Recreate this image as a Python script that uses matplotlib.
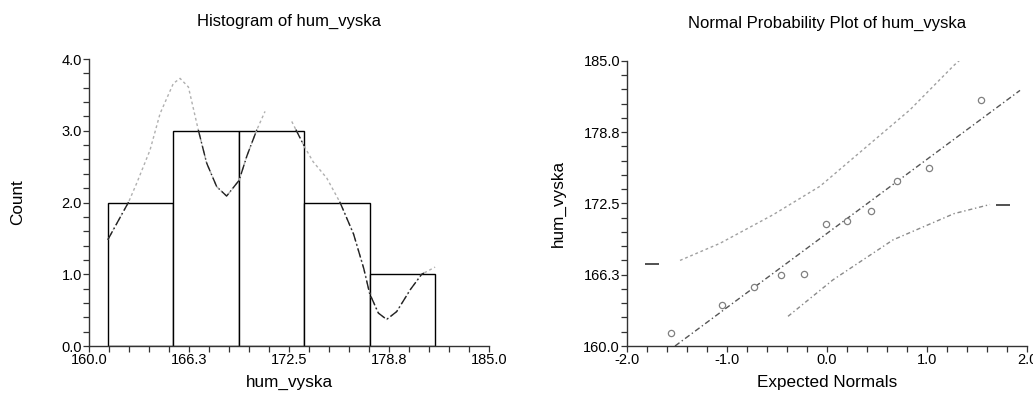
import numpy as np
import matplotlib
matplotlib.use("Agg")
import matplotlib.pyplot as plt
from matplotlib.ticker import MultipleLocator

plt.rcParams['font.family'] = ['Liberation Sans', 'DejaVu Sans']

# histogram of hum_vyska
bin_edges = [161.17, 165.27, 169.38, 173.46, 177.54, 181.63]
counts = [2, 3, 3, 2, 1]

# smooth curve drawn over the histogram (nan = gap)
curve_x = [161.17, 162.46, 162.98, 163.81, 164.44, 165.27, 165.69, 166.21, 166.83,
           167.35, 167.98, 168.60, 169.38, 169.85, 170.48, 171.00, np.nan,
           172.67, 173.46, 174.00, 174.86, 175.69, 176.52, 177.15, 177.54, 178.08,
           178.60, 179.23, 180.06, 180.79, 181.63]
curve_y = [1.48, 2.00, 2.27, 2.73, 3.24, 3.66, 3.73, 3.61, 3.01,
           2.55, 2.22, 2.09, 2.31, 2.64, 3.01, 3.27, np.nan,
           3.13, 2.78, 2.57, 2.34, 2.00, 1.57, 1.10, 0.73, 0.46,
           0.37, 0.48, 0.78, 1.00, 1.10]

# normal probability plot
expected = [-1.56, -1.05, -0.73, -0.46, -0.23, -0.01, 0.20, 0.44, 0.70, 1.02, 1.54]
heights = [161.1, 163.6, 165.2, 166.2, 166.3, 170.7, 170.95, 171.8, 174.5, 175.6, 181.6]
fit_x = [-1.52, 1.93]
fit_y = [160.0, 182.4]
upper_x = [-1.47, -1.07, -0.54, -0.07, 0.40, 0.83, 1.27, 1.45]
upper_y = [167.5, 169.0, 171.5, 174.0, 177.5, 180.7, 184.6, 186.0]
lower_x = [-0.39, 0.06, 0.66, 1.27, 1.63]
lower_y = [162.6, 165.8, 169.3, 171.6, 172.4]
ends_x = [-1.75, 1.76]
ends_y = [167.2, 172.4]

ticks_h = [160, 166.25, 172.5, 178.75, 185]
tick_lbl = ['160.0', '166.3', '172.5', '178.8', '185.0']

fig = plt.figure(figsize=(10.33, 3.94), dpi=100)
ax1 = fig.add_axes([0.0862, 0.1218, 0.3872, 0.7284])
ax2 = fig.add_axes([0.607, 0.1218, 0.3872, 0.7241])

for ax in (ax1, ax2):
    ax.spines['top'].set_visible(False)
    ax.spines['right'].set_visible(False)
    for s in ('left', 'bottom'):
        ax.spines[s].set_color('#333333')
        ax.spines[s].set_linewidth(1.0)
    ax.tick_params(which='both', direction='out', length=4, width=0.9,
                   color='#333333', labelsize=10.5, pad=1)

# left: histogram
widths = np.diff(bin_edges)
ax1.bar(bin_edges[:-1], counts, width=widths, align='edge', facecolor='white',
        edgecolor='black', linewidth=1.0)

cx = np.array(curve_x)
cy = np.array(curve_y)
ax1.plot(cx, cy, color='#b0b0b0', lw=1.0, ls=(0, (2, 2)))
dense_x = np.linspace(np.nanmin(cx), np.nanmax(cx), 800)
ok = ~np.isnan(cx)
dense_y = np.interp(dense_x, cx[ok], cy[ok])
dense_y[(dense_x > 171.0) & (dense_x < 172.67)] = np.nan
idx = np.clip(np.searchsorted(bin_edges, dense_x, side='right') - 1, 0, len(counts) - 1)
bar_h = np.array(counts)[idx]
inside = dense_y <= bar_h + 0.02
ax1.plot(dense_x, np.where(inside, dense_y, np.nan), color='#222222', lw=1.0,
         ls=(0, (7, 2, 1, 2)))

ax1.set_xlim(160, 185)
ax1.set_ylim(0, 4)
ax1.set_xticks(ticks_h)
ax1.set_xticklabels(tick_lbl)
ax1.xaxis.set_minor_locator(MultipleLocator(1.25))
ax1.set_yticks([0, 1, 2, 3, 4])
ax1.set_yticklabels(['0.0', '1.0', '2.0', '3.0', '4.0'])
ax1.yaxis.set_minor_locator(MultipleLocator(0.2))
ax1.set_title('Histogram of hum_vyska', fontsize=12, pad=24)
ax1.set_xlabel('hum_vyska', fontsize=12.3, labelpad=6)
ax1.set_ylabel('Count', fontsize=12.3)
ax1.yaxis.set_label_coords(-0.16, 0.5)

# right: normal probability plot
ax2.plot(upper_x, upper_y, color='#a0a0a0', lw=1.0, ls=(0, (2, 2)))
ax2.plot(lower_x, lower_y, color='#8a8a8a', lw=1.0, ls=(0, (3, 2, 1, 2)))
ax2.plot(fit_x, fit_y, color='#555555', lw=1.0, ls=(0, (4, 2, 1, 2)))
ax2.plot(ends_x, ends_y, ls='none', marker='_', markersize=10, mew=1.2, color='#333333')
ax2.plot(expected, heights, ls='none', marker='o', markersize=4.5, mfc='white',
         mec='#808080', mew=0.9)

ax2.set_xlim(-2, 2)
ax2.set_ylim(160, 185)
ax2.set_xticks([-2, -1, 0, 1, 2])
ax2.set_xticklabels(['-2.0', '-1.0', '0.0', '1.0', '2.0'])
ax2.xaxis.set_minor_locator(MultipleLocator(0.2))
ax2.set_yticks(ticks_h)
ax2.set_yticklabels(tick_lbl)
ax2.yaxis.set_minor_locator(MultipleLocator(1.25))
ax2.set_title('Normal Probability Plot of hum_vyska', fontsize=12, pad=24)
ax2.set_xlabel('Expected Normals', fontsize=12.3, labelpad=6)
ax2.set_ylabel('hum_vyska', fontsize=12.3)
ax2.yaxis.set_label_coords(-0.152, 0.5)

fig.savefig('out.png', dpi=100)
